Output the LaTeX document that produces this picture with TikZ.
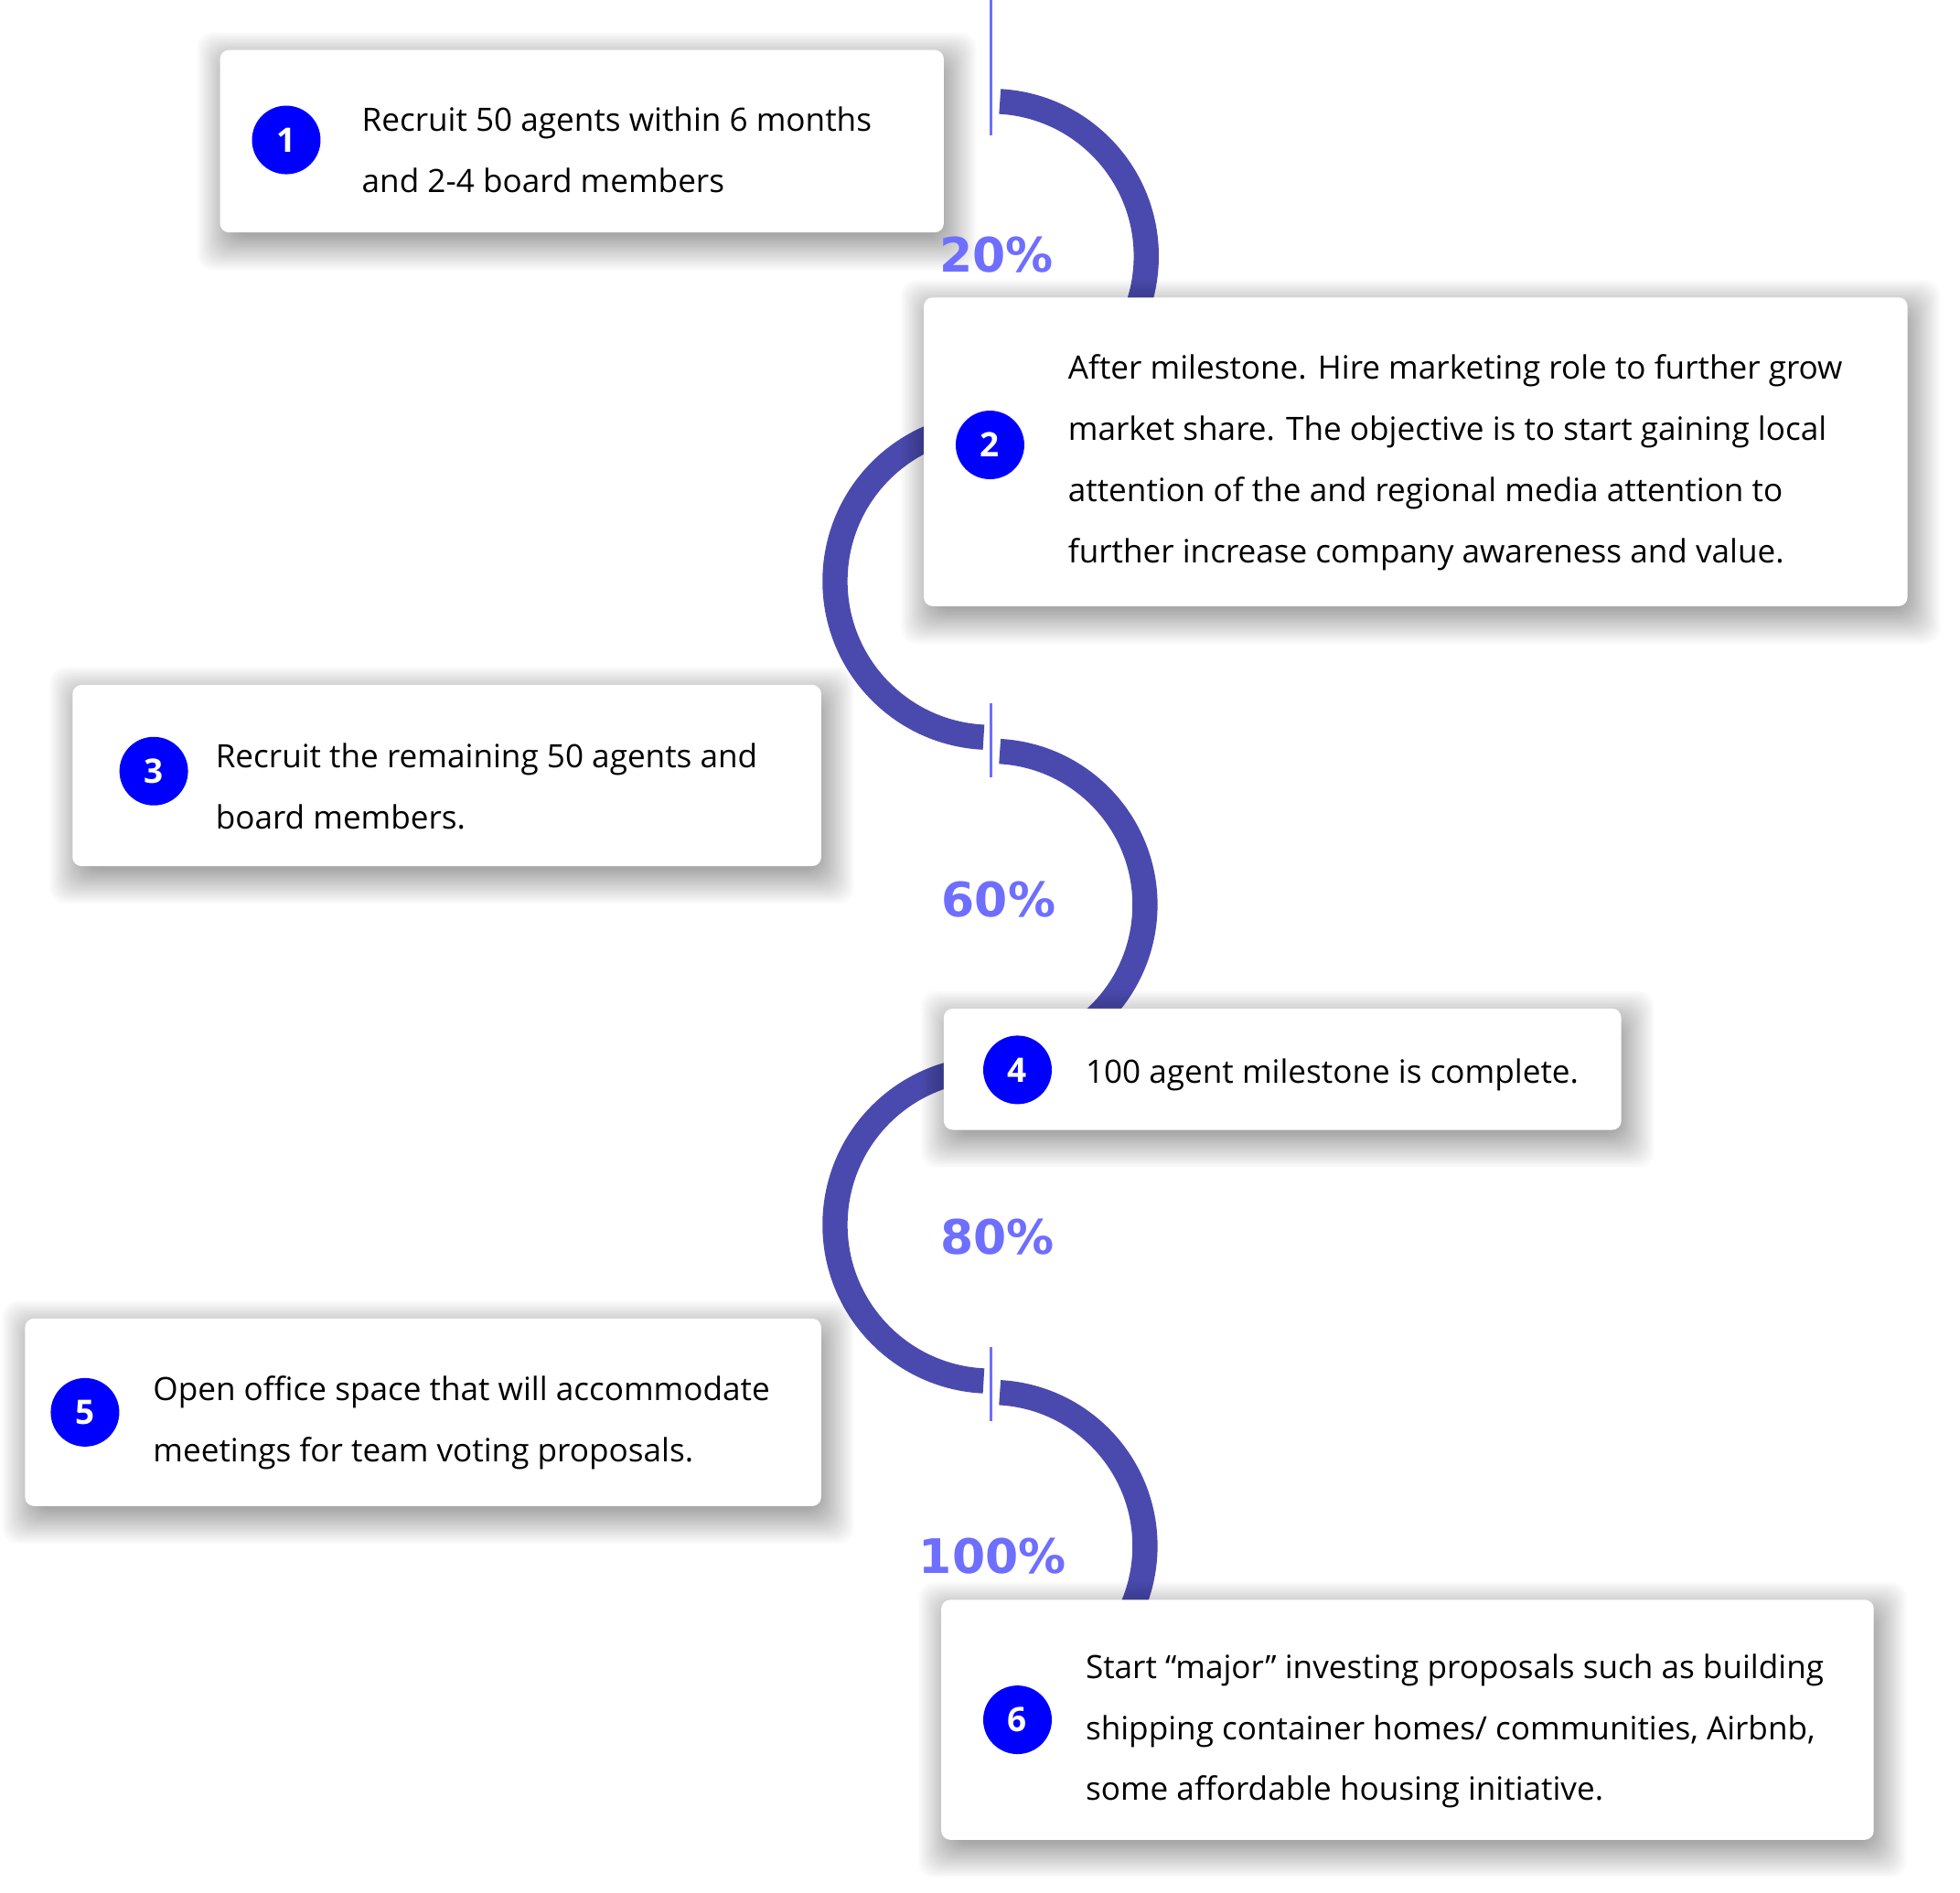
\documentclass[tikz,border=0pt]{standalone}
\usepackage{fontspec}
\setmainfont{Open Sans}
\newfontfamily\cifras{DejaVu Sans}
\usetikzlibrary{fit, calc}
\definecolor{arcocolor}{RGB}{74,74,174}
\definecolor{marca}{RGB}{110,110,255}
\definecolor{azul}{RGB}{0,0,255}
\tikzset{
	x=0.013667cm, y=0.013667cm, % Unidades de la imagen original
	caja/.style={fill=white, rounded corners=2.8pt, inner sep=0pt}, % Tarjetas blancas
	capa/.style={fill=black, opacity=0.012, rounded corners=5pt}, % Capas de la sombra
	arco/.style={draw=arcocolor, line width=7.8pt}, % Trazo de la curva
	marcador/.style={draw=marca, line width=0.95pt}, % Separadores verticales
	numero/.style={circle, fill=azul, text=white, minimum size=0.75cm,
		inner sep=0pt, font=\bfseries\fontsize{10.5}{12}\selectfont}, % Circulos numerados
	texto/.style={anchor=west, align=left, inner sep=0pt,
		font=\fontsize{10}{19.05}\selectfont}, % Texto de cada tarjeta
	porcentaje/.style={text=marca, inner sep=0pt,
		font=\cifras\bfseries\fontsize{14.8}{16}\selectfont} % Porcentajes
}
% sombra difusa bajo una tarjeta
\newcommand{\sombra}[1]{%
	\foreach \e in {-6,-5,...,22}
		\fill[capa] ($(#1.north west)+(4-\e,-8+\e)$) rectangle ($(#1.south east)+(4+\e,-8-\e)$);
}

\begin{document}
\begin{tikzpicture}
	\fill[white] (0,0) rectangle (1568,-1514);
	\useasboundingbox (0,0) rectangle (1568,-1514);
	% centros de los arcos
	\coordinate (c1) at (793,-205);
	\coordinate (c2) at (793,-465);
	\coordinate (c3) at (793,-724);
	\coordinate (c4) at (793,-980);
	\coordinate (c5) at (793,-1237);
	\draw[arco] (c1) ++(86.8:124) arc[start angle=86.8, end angle=-90, radius=124];
	\draw[arco] (c2) ++(90:125) arc[start angle=90, end angle=267.2, radius=125];
	\draw[arco] (c3) ++(86.8:123) arc[start angle=86.8, end angle=-90, radius=123];
	\draw[arco] (c4) ++(90:125) arc[start angle=90, end angle=267.2, radius=125];
	\draw[arco] (c5) ++(86.8:123) arc[start angle=86.8, end angle=-90, radius=123];
	\draw[marcador] (793,0) -- (793,-108);
	\draw[marcador] (793,-563) -- (793,-622);
	\draw[marcador] (793,-1078) -- (793,-1137);
	% tarjetas
	\path (176,-40) coordinate (a1) (755,-186) coordinate (z1)
		(739,-238) coordinate (a2) (1526,-485) coordinate (z2)
		(58,-548) coordinate (a3) (657,-693) coordinate (z3)
		(755,-807) coordinate (a4) (1297,-904) coordinate (z4)
		(20,-1055) coordinate (a5) (657,-1205) coordinate (z5)
		(753,-1280) coordinate (a6) (1499,-1472) coordinate (z6);
	\foreach \i in {1,...,6}{
		\node[fit=(a\i) (z\i), inner sep=0pt] (s\i) {};
		\sombra{s\i}
	}
	\foreach \i in {1,...,6}
		\node[caja, fit=(a\i) (z\i)] (b\i) {};
	\node[numero] (n1) at (229,-112) {1};
	\node[numero] (n2) at (792,-356) {2};
	\node[numero] (n3) at (123,-617) {3};
	\node[numero] (n4) at (814,-856) {4};
	\node[numero] (n5) at (68,-1130) {5};
	\node[numero] (n6) at (814,-1376) {6};
	\node[texto] (t1) at (289,-120) {Recruit 50 agents within 6 months\\and 2-4 board members};
	\node[texto] (t2) at (854,-370) {After milestone. Hire marketing role to further grow\\market share. The objective is to start gaining local\\attention of the and regional media attention to\\further increase company awareness and value.};
	\node[texto] (t3) at (172,-629) {Recruit the remaining 50 agents and\\board members.};
	\node[texto] (t4) at (868,-860) {100 agent milestone is complete.};
	\node[texto] (t5) at (122,-1138) {Open office space that will accommodate\\meetings for team voting proposals.};
	\node[texto] (t6) at (868,-1385) {Start “major” investing proposals such as building\\shipping container homes/ communities, Airbnb,\\some affordable housing initiative.};
	% porcentajes
	\node[porcentaje] (p20) at (797,-204) {20\%};
	\node[porcentaje] (p60) at (799,-720) {60\%};
	\node[porcentaje] (p80) at (798,-990) {80\%};
	\node[porcentaje] (p100) at (794,-1245) {100\%};
\end{tikzpicture}
\end{document}
